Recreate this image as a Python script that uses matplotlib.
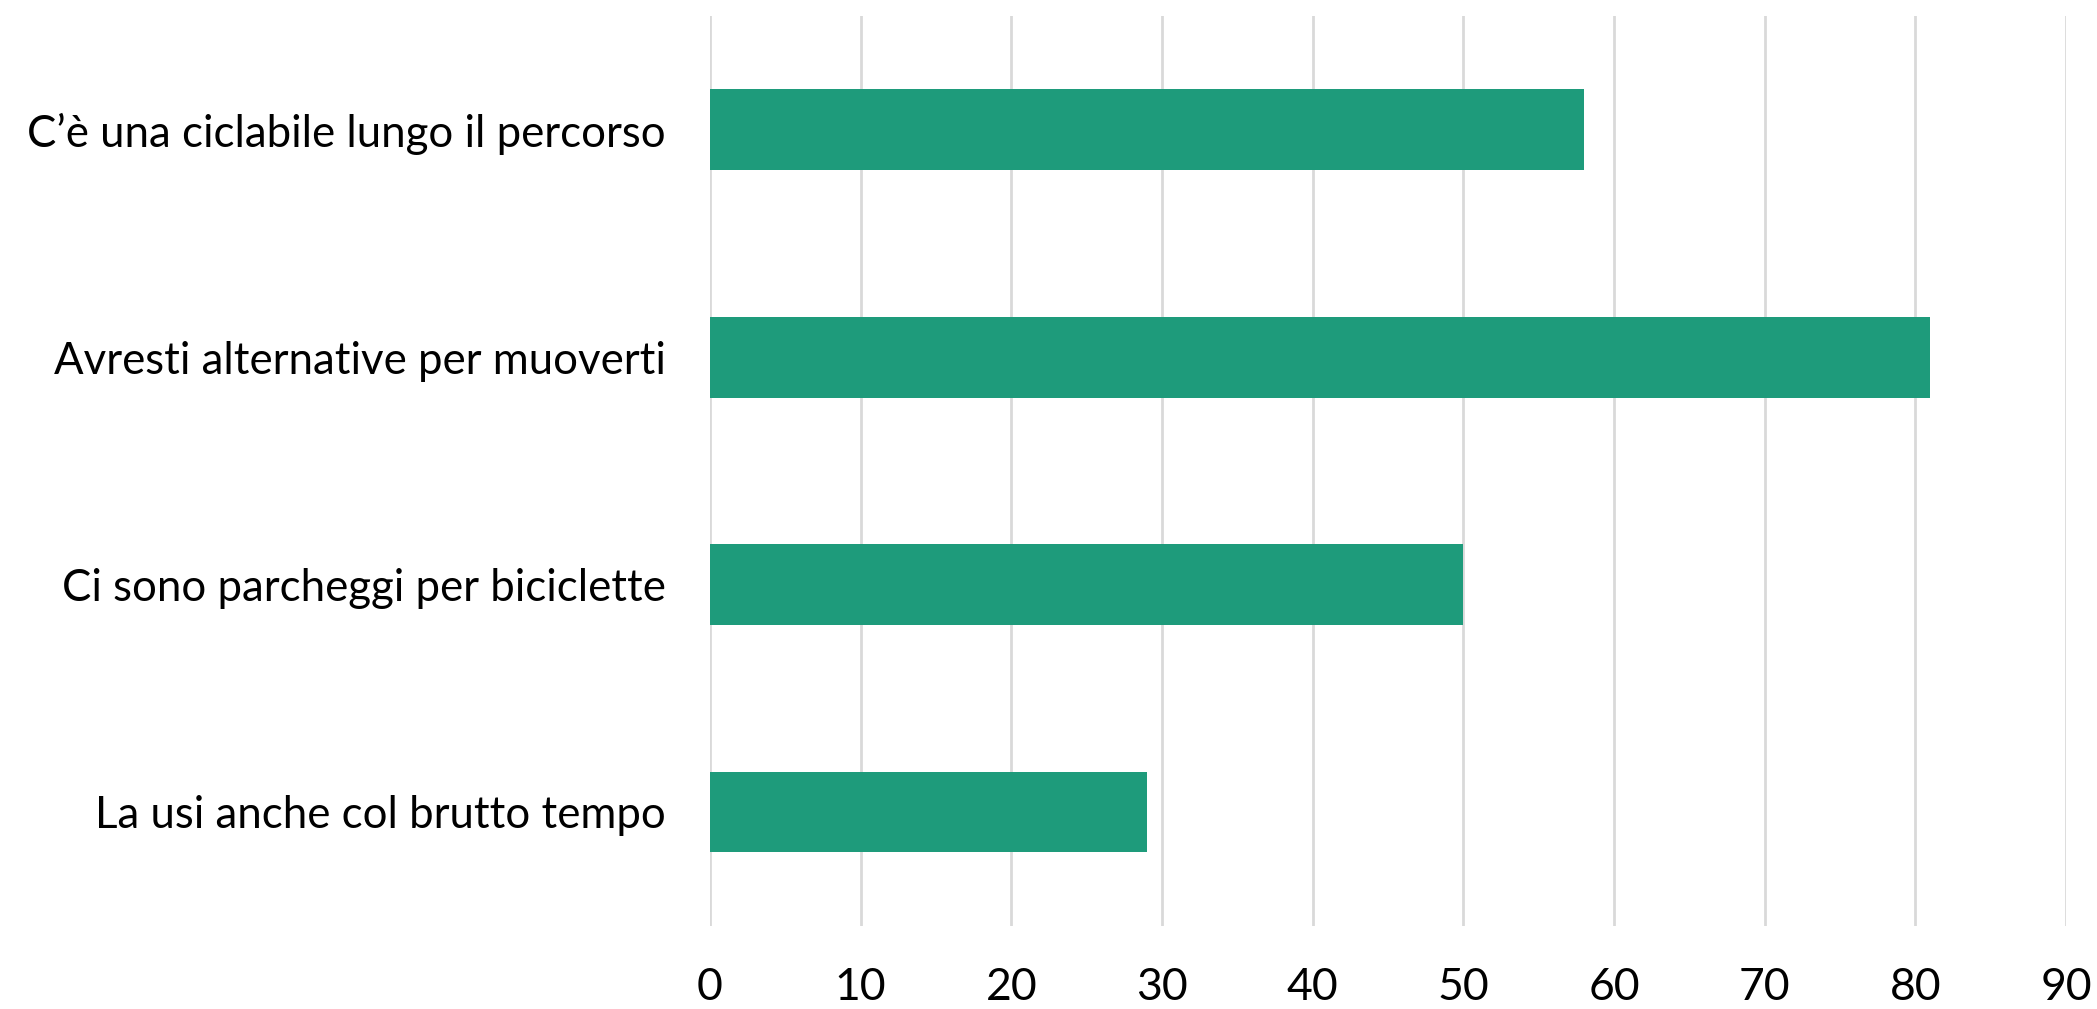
import matplotlib.pyplot as plt

# motivi (dall'alto in basso) e conteggi
motivi = [
    "C’è una ciclabile lungo il percorso",
    "Avresti alternative per muoverti",
    "Ci sono parcheggi per biciclette",
    "La usi anche col brutto tempo",
]
valori = [58, 81, 50, 29]
tacche_x = [0, 10, 20, 30, 40, 50, 60, 70, 80, 90]

plt.rcParams['font.family'] = ['Lato', 'DejaVu Sans']

fig = plt.figure(figsize=(20.97, 10.09), dpi=100)
ax = fig.add_axes([0.3386, 0.0826, 0.6466, 0.9015])

pos = list(range(len(motivi)))
ax.barh(pos, valori, height=0.355, color='#1E9B7B', zorder=3)

ax.set_ylim(len(motivi) - 0.5, -0.5)
ax.set_xlim(0, 90)
ax.set_xticks(tacche_x)
ax.set_yticks(pos)
ax.set_yticklabels(motivi)

ax.grid(axis='x', color='#d9d9d9', linewidth=2, zorder=0)
for s in ax.spines.values():
    s.set_visible(False)
ax.tick_params(axis='both', length=0, colors='black')
ax.tick_params(axis='x', pad=30, labelsize=32)
ax.tick_params(axis='y', pad=32, labelsize=31.5)

fig.savefig('out.png', dpi=100)
